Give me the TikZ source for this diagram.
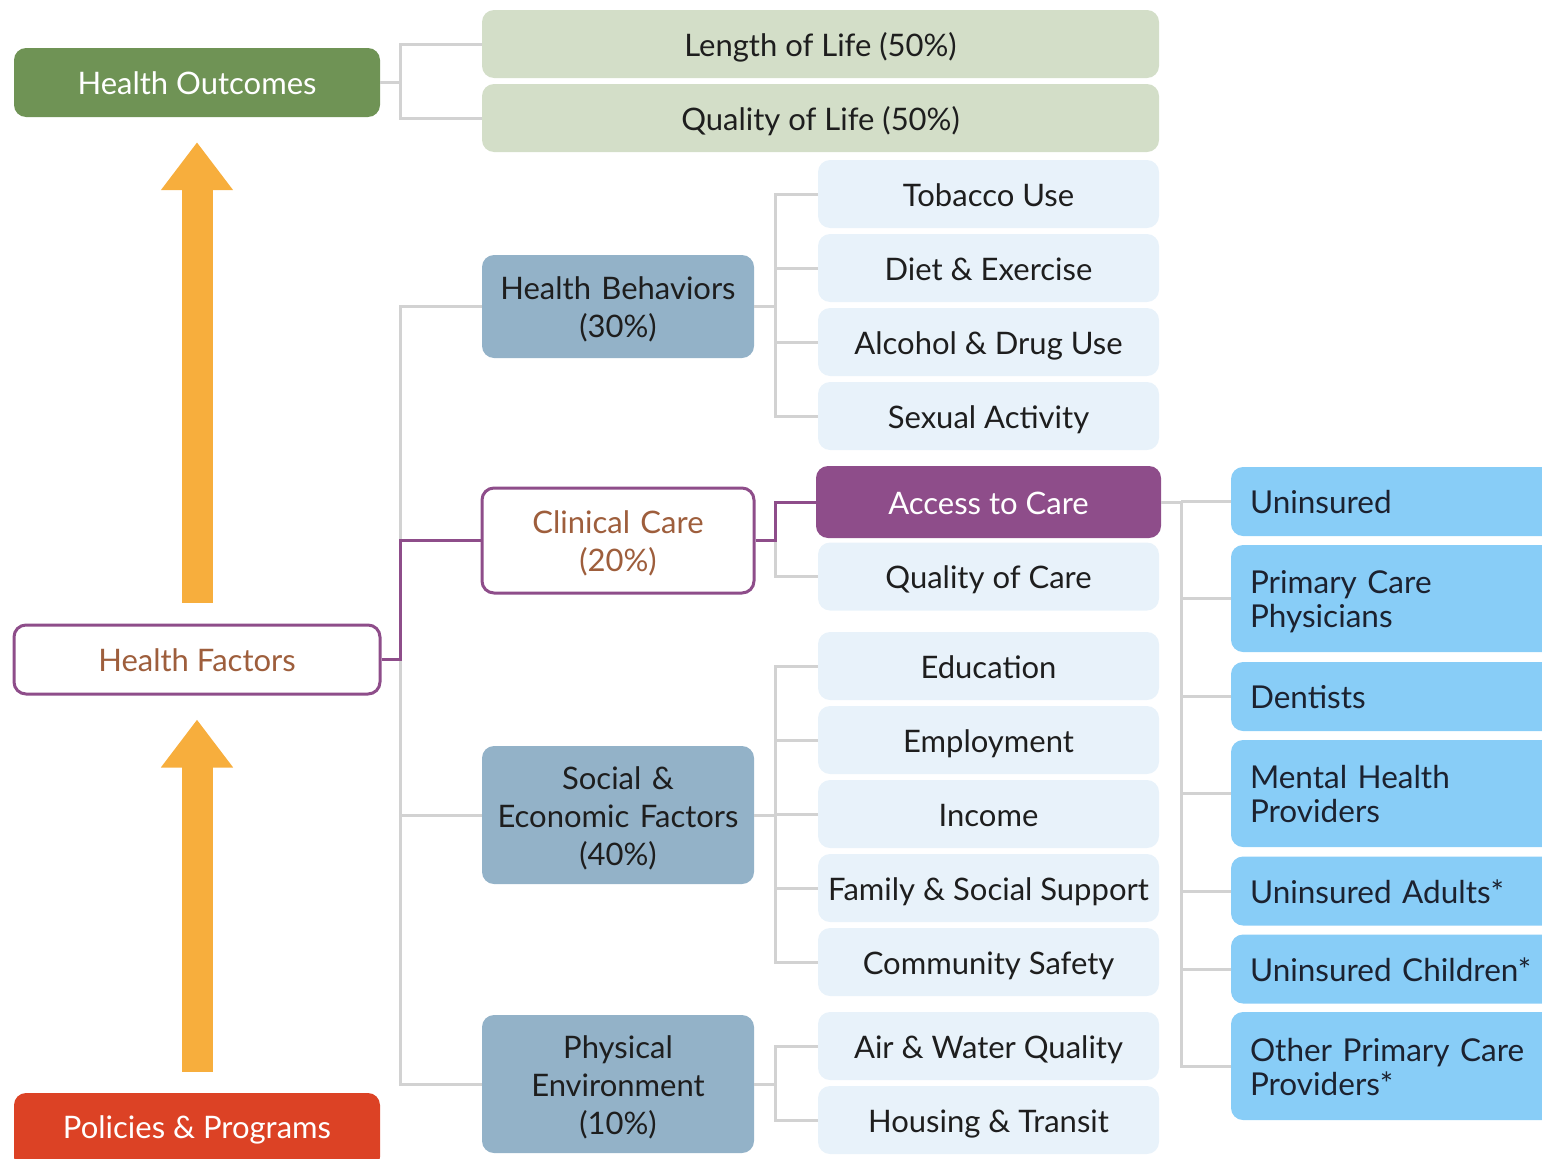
\documentclass[tikz,border=0pt]{standalone}
\usepackage{fontspec}
\setmainfont{Lato}
\usetikzlibrary{arrows.meta}
\definecolor{hogreen}{HTML}{6F9355}
\definecolor{lgreen}{HTML}{D3DEC8}
\definecolor{lblue}{HTML}{E8F2FA}
\definecolor{steel}{HTML}{93B2C8}
\definecolor{purp}{HTML}{8E4D8A}
\definecolor{bblue}{HTML}{88CDF7}
\definecolor{redor}{HTML}{DC4225}
\definecolor{orng}{HTML}{F7AE3D}
\definecolor{conng}{HTML}{D2D2D2}
\definecolor{brn}{HTML}{9E5E3C}
\definecolor{dtext}{HTML}{1E1E1E}
\definecolor{ntext}{HTML}{1C2230}
\tikzset{
  box/.style={rounded corners=12pt, inner sep=0pt, align=center,
    font=\fontsize{31}{38}\selectfont, text=dtext,
    execute at begin node={\rule[-7pt]{0pt}{38pt}},
    execute at end node={\rule[-7pt]{0pt}{7pt}}},
  multi/.style={text width=262pt},
  topbox/.style={box, fill=hogreen, text=white, minimum width=366pt, minimum height=69pt},
  outbox/.style={box, fill=lgreen, minimum width=677pt, minimum height=68pt},
  grpbox/.style={box, multi, fill=steel, minimum width=272pt},
  childbox/.style={box, fill=lblue, minimum width=341pt, minimum height=68pt},
  rbox/.style={box, fill=bblue, text=ntext, align=left, text width=292pt,
    minimum width=330pt, font=\fontsize{31.5}{34}\selectfont},
  conn/.style={draw=conng, line width=3pt},
  pconn/.style={draw=purp, line width=3pt},
  bigarrow/.style={draw=orng, line width=31pt, -{Triangle[width=69pt,length=48pt]}},
}
\begin{document}
\begin{tikzpicture}[x=1pt,y=-1pt]
\useasboundingbox (0,0) rectangle (1542,1159);
\clip (0,0) rectangle (1542,1159);
% left column
\node[topbox] (HO) at (197,82.5) {Health Outcomes};
\node[box, fill=white, draw=purp, line width=3pt, text=brn, minimum width=366pt, minimum height=69pt] (HF) at (197,659.5) {Health Factors};
\node[topbox, fill=redor, minimum height=76pt] (PP) at (197,1131) {\raisebox{5pt}{Policies \& Programs}};
% outcomes
\node[outbox] (LoL) at (820.5,44) {Length of Life (50\%)};
\node[outbox] (QoL) at (820.5,118) {Quality of Life (50\%)};
% groups
\node[grpbox, minimum height=103pt] (HB) at (618,306.5) {Health Behaviors\\(30\%)};
\node[box, multi, fill=white, draw=purp, line width=3pt, text=brn, minimum width=272pt, minimum height=105pt] (CC) at (618,540.5) {Clinical Care\\(20\%)};
\node[grpbox, minimum height=138pt] (SEF) at (618,815) {Social \&\\Economic Factors\\(40\%)};
\node[grpbox, minimum height=138pt] (PE) at (618,1084) {Physical\\Environment\\(10\%)};
% children
\node[childbox] (Tob) at (988.5,194) {Tobacco Use};
\node[childbox] (Diet) at (988.5,268) {Diet \& Exercise};
\node[childbox] (Alc) at (988.5,342) {Alcohol \& Drug Use};
\node[childbox] (Sex) at (988.5,416) {Sexual Activity};
\node[box, fill=purp, text=white, minimum width=345pt, minimum height=72pt] (Acc) at (988.5,502) {Access to Care};
\node[childbox] (QoC) at (988.5,576.5) {Quality of Care};
\node[childbox] (Edu) at (988.5,666) {Education};
\node[childbox] (Emp) at (988.5,740) {Employment};
\node[childbox] (Inc) at (988.5,814) {Income};
\node[childbox] (Fam) at (988.5,888) {Family \& Social Support};
\node[childbox] (Com) at (988.5,962) {Community Safety};
\node[childbox] (Air) at (988.5,1046) {Air \& Water Quality};
\node[childbox] (Hou) at (988.5,1120) {Housing \& Transit};
% right column
\node[rbox, minimum height=69pt] (Un) at (1396,501.5) {Uninsured};
\node[rbox, minimum height=107pt] (PCP) at (1396,598.5) {Primary Care\\Physicians};
\node[rbox, minimum height=69pt] (Den) at (1396,696.5) {Dentists};
\node[rbox, minimum height=107pt] (MHP) at (1396,793.5) {Mental Health\\Providers};
\node[rbox, minimum height=69pt] (UA) at (1396,891) {Uninsured Adults*};
\node[rbox, minimum height=69pt] (UC) at (1396,969) {Uninsured Children*};
\node[rbox, minimum height=108pt] (OPC) at (1396,1066) {Other Primary Care\\Providers*};
% trunks
\coordinate (ta) at (400,0);
\coordinate (tb) at (775,0);
\coordinate (tc) at (1181,0);
% outcome connectors
\draw[conn] (HO.east) -- (ta |- HO.east);
\draw[conn] (LoL.west) -| (ta |- QoL.west) -- (QoL.west);
% factor connectors
\draw[conn] (HB.west) -| (ta |- PE.west) -- (PE.west);
\draw[conn] (SEF.west) -- (ta |- SEF.west);
\draw[pconn] (HF.east) -| (ta |- CC.west) -- (CC.west);
% behaviours
\draw[conn] (HB.east) -- (tb |- HB.east);
\draw[conn] (Tob.west) -| (tb |- Sex.west) -- (Sex.west);
\draw[conn] (Diet.west) -- (tb |- Diet.west);
\draw[conn] (Alc.west) -- (tb |- Alc.west);
% clinical
\draw[conn] (CC.east) -| (tb |- QoC.west) -- (QoC.west);
\draw[pconn] (CC.east) -| (tb |- Acc.west) -- (Acc.west);
% social
\draw[conn] (SEF.east) -- (tb |- SEF.east);
\draw[conn] (Edu.west) -| (tb |- Com.west) -- (Com.west);
\draw[conn] (Emp.west) -- (tb |- Emp.west);
\draw[conn] (Inc.west) -- (tb |- Inc.west);
\draw[conn] (Fam.west) -- (tb |- Fam.west);
% physical
\draw[conn] (PE.east) -- (tb |- PE.east);
\draw[conn] (Air.west) -| (tb |- Hou.west) -- (Hou.west);
% access
\draw[conn] (Acc.east) -| (tc |- OPC.west) -- (OPC.west);
\draw[conn] (Un.west) -- (tc |- Un.west);
\draw[conn] (PCP.west) -- (tc |- PCP.west);
\draw[conn] (Den.west) -- (tc |- Den.west);
\draw[conn] (MHP.west) -- (tc |- MHP.west);
\draw[conn] (UA.west) -- (tc |- UA.west);
\draw[conn] (UC.west) -- (tc |- UC.west);
% big arrows
\draw[bigarrow] ([yshift=21pt]HF.north) -- ([yshift=-25pt]HO.south);
\draw[bigarrow] ([yshift=21pt]PP.north) -- ([yshift=-24pt]HF.south);
\end{tikzpicture}
\end{document}
